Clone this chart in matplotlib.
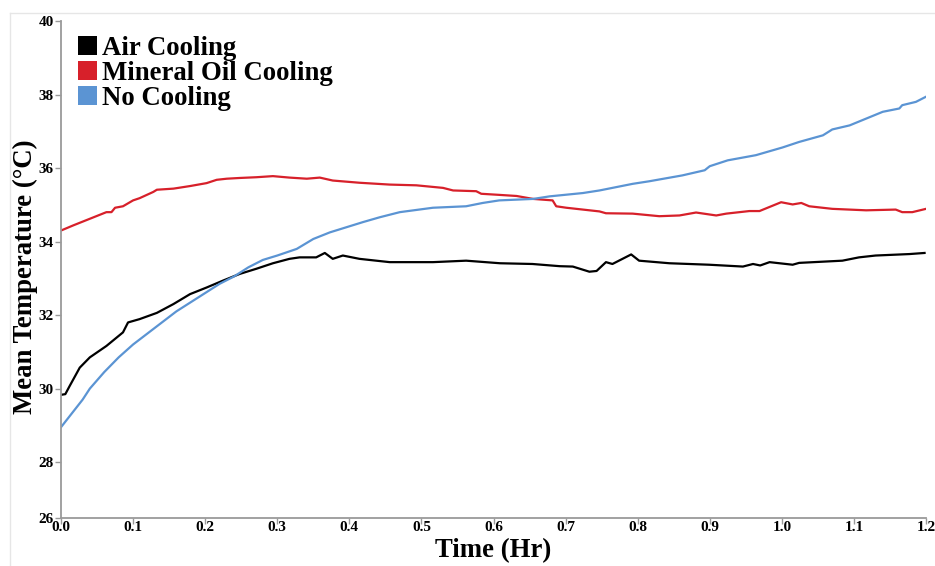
import matplotlib
matplotlib.use("Agg")
import matplotlib.pyplot as plt
from matplotlib.patches import Patch
from matplotlib.lines import Line2D

# ---- data ----
air_t = [0.000, 0.006, 0.012, 0.026, 0.040, 0.063, 0.086, 0.093, 0.109, 0.133,
         0.156, 0.179, 0.202, 0.225, 0.248, 0.271, 0.294, 0.317, 0.331, 0.354,
         0.366, 0.377, 0.391, 0.414, 0.456, 0.516, 0.562, 0.609, 0.654, 0.692,
         0.710, 0.733, 0.743, 0.756, 0.765, 0.779, 0.791, 0.802, 0.844, 0.899,
         0.946, 0.960, 0.970, 0.983, 1.015, 1.024, 1.084, 1.107, 1.130, 1.177, 1.198]
air_v = [29.83, 29.85, 30.07, 30.57, 30.85, 31.16, 31.53, 31.80, 31.89, 32.06,
         32.30, 32.57, 32.75, 32.94, 33.12, 33.26, 33.41, 33.53, 33.57, 33.57,
         33.69, 33.53, 33.62, 33.53, 33.44, 33.44, 33.48, 33.41, 33.39, 33.33,
         33.32, 33.18, 33.20, 33.44, 33.39, 33.53, 33.65, 33.48, 33.41, 33.37,
         33.32, 33.39, 33.35, 33.44, 33.37, 33.42, 33.48, 33.57, 33.62, 33.66, 33.69]

oil_t = [0.000, 0.017, 0.040, 0.063, 0.070, 0.075, 0.086, 0.100, 0.109, 0.128,
         0.133, 0.156, 0.179, 0.202, 0.216, 0.230, 0.248, 0.271, 0.294, 0.317,
         0.341, 0.359, 0.377, 0.414, 0.456, 0.493, 0.530, 0.544, 0.576, 0.583,
         0.608, 0.632, 0.655, 0.682, 0.687, 0.701, 0.747, 0.756, 0.793, 0.830,
         0.858, 0.881, 0.909, 0.923, 0.955, 0.969, 0.999, 1.015, 1.027, 1.038,
         1.070, 1.117, 1.158, 1.167, 1.181, 1.200]
oil_v = [34.30, 34.44, 34.62, 34.80, 34.80, 34.92, 34.96, 35.12, 35.18, 35.35,
         35.41, 35.44, 35.51, 35.59, 35.68, 35.71, 35.73, 35.75, 35.78, 35.74,
         35.71, 35.74, 35.66, 35.60, 35.55, 35.53, 35.46, 35.39, 35.37, 35.30,
         35.27, 35.24, 35.16, 35.12, 34.96, 34.92, 34.82, 34.77, 34.76, 34.69,
         34.71, 34.79, 34.71, 34.76, 34.83, 34.83, 35.07, 35.01, 35.05, 34.96,
         34.89, 34.85, 34.87, 34.80, 34.80, 34.89]

none_t = [0.000, 0.014, 0.030, 0.040, 0.060, 0.080, 0.100, 0.120, 0.140, 0.160,
          0.180, 0.200, 0.220, 0.240, 0.260, 0.280, 0.300, 0.327, 0.350, 0.373,
          0.396, 0.419, 0.442, 0.470, 0.516, 0.562, 0.585, 0.608, 0.655, 0.678,
          0.724, 0.747, 0.793, 0.816, 0.862, 0.893, 0.900, 0.925, 0.964, 1.001,
          1.024, 1.057, 1.070, 1.094, 1.140, 1.163, 1.167, 1.186, 1.200]
none_v = [28.95, 29.30, 29.70, 30.00, 30.45, 30.85, 31.20, 31.50, 31.80, 32.10,
          32.35, 32.60, 32.85, 33.05, 33.30, 33.50, 33.62, 33.80, 34.07, 34.25,
          34.39, 34.53, 34.66, 34.80, 34.92, 34.96, 35.05, 35.12, 35.16, 35.23,
          35.32, 35.39, 35.57, 35.64, 35.80, 35.94, 36.05, 36.21, 36.35, 36.56,
          36.71, 36.89, 37.05, 37.16, 37.53, 37.62, 37.71, 37.80, 37.94]

series_names = ["Air Cooling", "Mineral Oil Cooling", "No Cooling"]
x_ticks = [0.0, 0.1, 0.2, 0.3, 0.4, 0.5, 0.6, 0.7, 0.8, 0.9, 1.0, 1.1, 1.2]
y_tick_labels = ["26", "28", "30", "32", "34", "36", "38", "40"]

# ---- style ----
colors = ["#000000", "#d7202a", "#5b94d3"]
serif = ["Liberation Serif", "DejaVu Serif"]
plt.rcParams["font.family"] = serif
plt.rcParams["font.weight"] = "bold"

fig = plt.figure(figsize=(9.35, 5.66), dpi=100)
ax = fig.add_axes([61/935, 1-518/566, (926-61)/935, (518-21)/566])

y_bottom = 26.48
ax.plot(air_t, air_v, color=colors[0], lw=1.6)
ax.plot(oil_t, oil_v, color=colors[1], lw=1.6)
ax.plot(none_t, none_v, color=colors[2], lw=1.6)

ax.set_xlim(0, 1.2)
ax.set_ylim(y_bottom, 40)
ax.set_xticks(x_ticks)
ax.set_xticklabels([f"{v:.1f}" for v in x_ticks])
ax.set_yticks([y_bottom, 28, 30, 32, 34, 36, 38, 40])
ax.set_yticklabels(y_tick_labels)

for s in ["top", "right"]:
    ax.spines[s].set_visible(False)
for s in ["left", "bottom"]:
    ax.spines[s].set_color("#9a9a9a")
    ax.spines[s].set_linewidth(1.3)

ax.tick_params(axis="both", colors="#9a9a9a", labelcolor="black", length=4,
               width=1.0, labelsize=11)
ax.tick_params(axis="x", pad=-2)
ax.tick_params(axis="y", pad=1)
for lab in ax.get_xticklabels() + ax.get_yticklabels():
    lab.set_fontweight("bold")

ax.set_xlabel("Time (Hr)", fontsize=19.3, fontweight="bold")
ax.xaxis.set_label_coords(0.5, -0.040)
ax.set_ylabel("Mean Temperature (\u00b0C)", fontsize=19.3, fontweight="bold")
ax.yaxis.set_label_coords(-0.0266, 0.485)

handles = [Patch(facecolor=c, edgecolor="none") for c in colors]
leg = ax.legend(handles, series_names, loc="upper left",
                bbox_to_anchor=(0.007, 0.992), frameon=False,
                prop={"family": serif, "weight": "bold", "size": 19.3},
                handlelength=0.7, handleheight=0.7, handletextpad=0.22,
                labelspacing=0.0, borderaxespad=0.2, borderpad=0.2)

# faint frame lines of the original image
fig.add_artist(Line2D([10/935, 1.0], [1-13/566, 1-13/566], transform=fig.transFigure,
                      color="#e6e6e6", lw=1))
fig.add_artist(Line2D([10/935, 10/935], [0.0, 1-13/566], transform=fig.transFigure,
                      color="#e6e6e6", lw=1))

fig.savefig("out.png", dpi=100)
